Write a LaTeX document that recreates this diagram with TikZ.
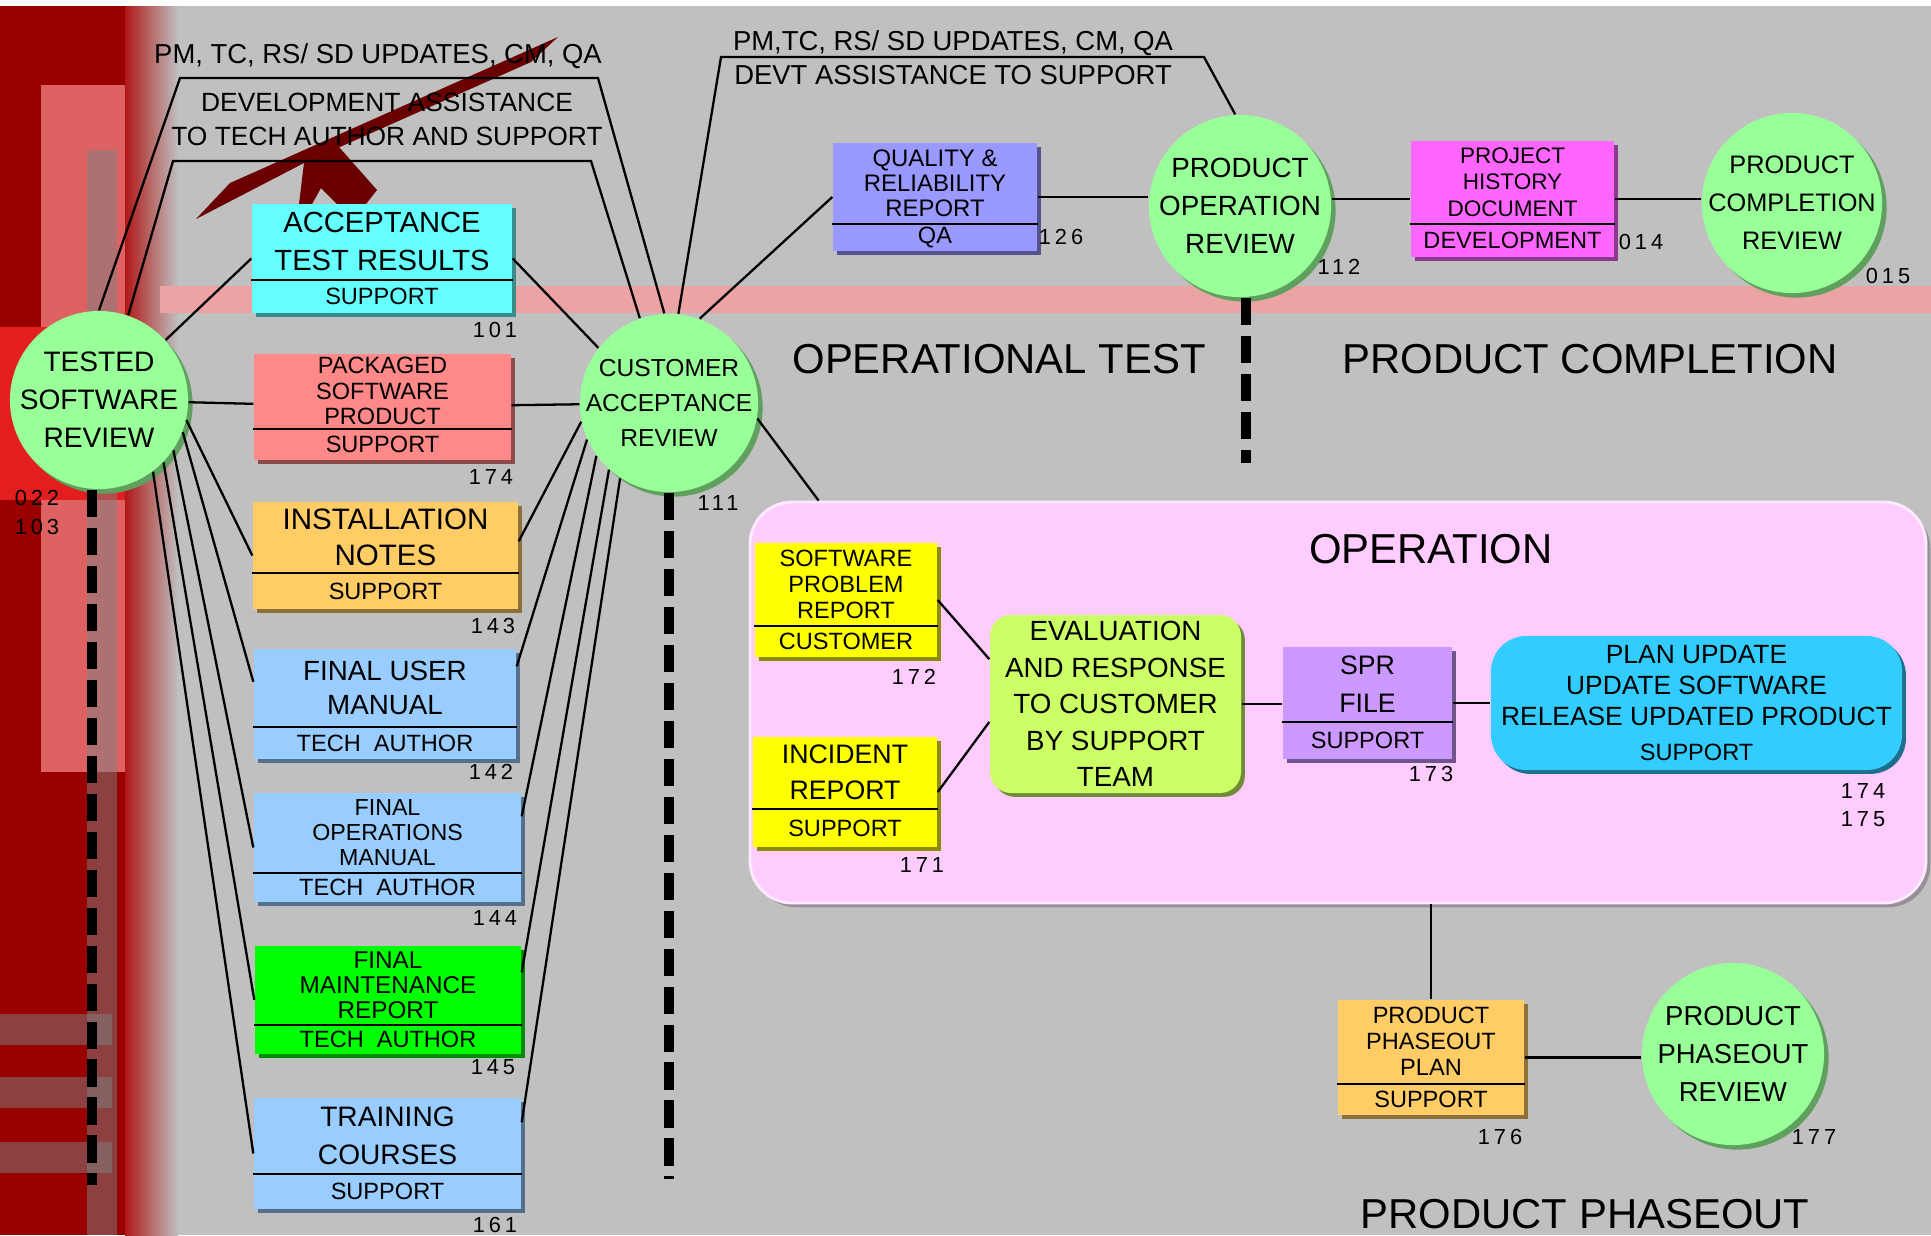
\documentclass[tikz,border=0pt]{standalone}
\usepackage{fontspec}
\setmainfont{Liberation Sans}
\usetikzlibrary{calc,fit,shadows}

\definecolor{panel}{HTML}{C0C0C0}
\definecolor{deepred}{HTML}{990000}
\definecolor{brightred}{HTML}{E31E1E}
\definecolor{pinkred}{HTML}{DE6262}
\definecolor{redfade}{HTML}{B01818}
\definecolor{bandpink}{HTML}{EBA3A3}
\definecolor{arrowred}{HTML}{6A0000}
\definecolor{revgreen}{HTML}{99FF99}
\definecolor{revshade}{HTML}{5FA05F}
\definecolor{tealcyan}{HTML}{66FFFF}
\definecolor{salmon}{HTML}{FF8888}
\definecolor{apricot}{HTML}{FFCC66}
\definecolor{skyblue}{HTML}{99CCFF}
\definecolor{vividgreen}{HTML}{00FF00}
\definecolor{periwinkle}{HTML}{9999FF}
\definecolor{hotpink}{HTML}{FF66FF}
\definecolor{sunyellow}{HTML}{FFFF00}
\definecolor{lavender}{HTML}{CC99FF}
\definecolor{opink}{HTML}{FFCCFF}
\definecolor{evgreen}{HTML}{CCFF66}
\definecolor{planblue}{HTML}{33CCFF}

\tikzset{
  review/.style={circle, fill=revgreen, inner sep=-6pt, minimum size=#1, align=center,
    drop shadow={shadow xshift=1.3pt, shadow yshift=-1.3pt, fill=revshade, opacity=1}},
  docbox/.style={inner sep=0pt, fill=#1,
    drop shadow={shadow xshift=1.1pt, shadow yshift=-1.1pt, fill=#1!55!black, opacity=1}},
  softbox/.style={docbox=#1, rounded corners=10pt},
  divider/.style={line width=0.8pt},
  owner/.style={font=\fontsize{6.7}{8}\selectfont},
  num/.style={font=\fontsize{6.2}{7}\selectfont\addfontfeature{LetterSpace=18}},
  link/.style={line width=0.65pt},
  phase/.style={line width=2.8pt, dash pattern=on 7.7pt off 3.1pt},
  stage/.style={font=\fontsize{11.9}{14}\selectfont},
  note/.style={font=\fontsize{7.8}{9}\selectfont},
}

% document box: name, colour, corner, corner, divider y, size, leading, title, owner
\newcommand{\docbox}[9]{%
  \node[docbox=#2, fit={(#3) (#4)}] (#1) {};
  \coordinate (#1-d) at (0,#5);
  \draw[divider] (#1.west |- #1-d) -- (#1.east |- #1-d);
  \node[align=center, font=\fontsize{#6}{#7}\selectfont] (#1-t)
    at ($(#1.north)!.5!(#1.north |- #1-d)$) {#8};
  \node[owner] (#1-o) at ($(#1.south)!.5!(#1.south |- #1-d)$) {#9};
}

\begin{document}
\begin{tikzpicture}[x=0.01cm, y=-0.01cm]
    \useasboundingbox (0,0) rectangle (1931,1235);

    % Backdrop
    \fill[white] (0,0) rectangle (1931,1235);
    \fill[panel] (0,6) rectangle (1931,1235);
    \fill[deepred] (0,6) rectangle (125,1235);
    \fill[pinkred] (41,85) rectangle (125,772);
    \fill[brightred] (0,327) rectangle (125,500);
    \fill[gray, opacity=.5] (87,150) rectangle (117,1235);
    \foreach \y in {1014,1077,1142}
        \fill[gray, opacity=.5] (0,\y) rectangle (112,\y+31);
    \shade[left color=redfade, right color=panel] (125,6) rectangle (178,1235);
    \fill[bandpink] (160,286) rectangle (1931,313);

    % Red arrow
    \fill[arrowred] (196,219) -- (230,183) -- (558,37) -- (531,62) -- (304,163) -- cycle;
    \fill[arrowred] (299,204) -- (304,163) -- (339,147) -- (377,190) -- (366,204)
        -- (337,204) -- (321,188) -- (312,204) -- cycle;

    % Operation area
    \node[fit={(750,502) (1926,903)}, inner sep=0pt, rounded corners=12pt, fill=opink,
        draw=white!60!opink, line width=0.8pt,
        drop shadow={shadow xshift=1.2pt, shadow yshift=-1.2pt, fill=gray!80!opink, opacity=1}] (oper) {};
    \node[stage] (oper-t) at (1431,549) {OPERATION};

    % Reviews
    \node[review=1.78cm, font=\fontsize{8}{10.8}\selectfont] (tsr) at (99,400) {TESTED\\SOFTWARE\\REVIEW};
    \node[review=1.78cm, font=\fontsize{7}{10}\selectfont] (car) at (669,403) {CUSTOMER\\ACCEPTANCE\\REVIEW};
    \node[review=1.82cm, font=\fontsize{7.9}{10.8}\selectfont] (por) at (1240,206) {PRODUCT\\OPERATION\\REVIEW};
    \node[review=1.80cm, font=\fontsize{7.2}{10.8}\selectfont] (pcr) at (1792,203) {PRODUCT\\COMPLETION\\REVIEW};
    \node[review=1.82cm, font=\fontsize{7.8}{10.8}\selectfont] (ppr) at (1733,1054) {PRODUCT\\PHASEOUT\\REVIEW};

    % Documents
    \docbox{atr}{tealcyan}{252,204}{512,313}{280}{8.3}{10.8}{ACCEPTANCE\\TEST RESULTS}{SUPPORT}
    \docbox{psp}{salmon}{254,354}{511,460}{429}{6.7}{7.2}{PACKAGED\\SOFTWARE\\PRODUCT}{SUPPORT}
    \docbox{inn}{apricot}{253,502}{518,609}{573}{8.4}{10.2}{INSTALLATION\\NOTES}{SUPPORT}
    \docbox{fum}{skyblue}{254,649}{516,759}{727}{7.9}{9.7}{FINAL USER\\MANUAL}{TECH\ \ AUTHOR}
    \docbox{fom}{skyblue}{254,793}{521,902}{873}{6.6}{7}{FINAL\\OPERATIONS\\MANUAL}{TECH\ \ AUTHOR}
    \docbox{fmr}{vividgreen}{255,946}{521,1054}{1025}{6.9}{7}{FINAL\\MAINTENANCE\\REPORT}{TECH\ \ AUTHOR}
    \docbox{trc}{skyblue}{254,1098}{521,1209}{1174}{8}{10.8}{TRAINING\\COURSES}{SUPPORT}
    \docbox{qrr}{periwinkle}{833,143}{1037,251}{224}{6.8}{7.2}{QUALITY \&\\RELIABILITY\\REPORT}{QA}
    \docbox{phd}{hotpink}{1411,141}{1614,257}{224}{6.4}{7.5}{PROJECT\\HISTORY\\DOCUMENT}{DEVELOPMENT}
    \docbox{spr}{sunyellow}{755,543}{937,657}{626}{6.7}{7.4}{SOFTWARE\\PROBLEM\\REPORT}{CUSTOMER}
    \docbox{inc}{sunyellow}{753,737}{937,847}{809}{7.6}{10.2}{INCIDENT\\REPORT}{SUPPORT}
    \docbox{sprf}{lavender}{1283,647}{1452,759}{722}{7.6}{10.8}{SPR\\FILE}{SUPPORT}
    \docbox{ppp}{apricot}{1338,1000}{1524,1115}{1084}{6.7}{7.4}{PRODUCT\\PHASEOUT\\PLAN}{SUPPORT}

    % Rounded activity boxes
    \node[softbox=evgreen, rounded corners=6pt, fit={(990,615) (1241,793)}] (evl) {};
    \node[align=center, font=\fontsize{7.9}{10.4}\selectfont] (evl-t) at (evl)
        {EVALUATION\\AND RESPONSE\\TO CUSTOMER\\BY SUPPORT\\TEAM};
    \node[softbox=planblue, fit={(1491,636) (1902,770)}] (plan) {};
    \node[align=center, font=\fontsize{7.5}{8.8}\selectfont] (plan-t) at (plan)
        {PLAN UPDATE\\UPDATE SOFTWARE\\RELEASE UPDATED PRODUCT\\[1pt]{\fontsize{6.7}{8}\selectfont SUPPORT}};

    % Reference numbers
    \node[num] (n022) at (37,498) {022};
    \node[num] (n103) at (37,527) {103};
    \node[num] (n101) at (495,330) {101};
    \node[num] (n174) at (491,477) {174};
    \node[num] (n143) at (493,626) {143};
    \node[num] (n142) at (491,772) {142};
    \node[num] (n144) at (495,918) {144};
    \node[num] (n145) at (493,1067) {145};
    \node[num] (n161) at (495,1225) {161};
    \node[num] (n111) at (718,503) {111};
    \node[num] (n126) at (1061,237) {126};
    \node[num] (n112) at (1339,267) {112};
    \node[num] (n014) at (1641,242) {014};
    \node[num] (n015) at (1888,276) {015};
    \node[num] (n172) at (914,677) {172};
    \node[num] (n171) at (922,865) {171};
    \node[num] (n173) at (1431,774) {173};
    \node[num] (n174b) at (1863,791) {174};
    \node[num] (n175) at (1863,819) {175};
    \node[num] (n176) at (1500,1137) {176};
    \node[num] (n177) at (1814,1137) {177};

    % Stage names
    \node[stage] (optest) at (999,359) {OPERATIONAL TEST};
    \node[stage] (prodcomp) at (1590,359) {PRODUCT COMPLETION};
    \node[stage] (prodphase) at (1585,1214) {PRODUCT PHASEOUT};

    % Updates passed along the top
    \node[note] (hd1) at (378,56) {PM, TC, RS/ SD UPDATES, CM, QA};
    \node[note, font=\fontsize{7.5}{9}\selectfont] (hd2) at (387,102) {DEVELOPMENT ASSISTANCE};
    \node[note, font=\fontsize{7.5}{9}\selectfont] (hd3) at (387,136) {TO TECH AUTHOR AND SUPPORT};
    \node[note] (hd4) at (953,43) {PM,TC, RS/ SD UPDATES, CM, QA};
    \node[note] (hd5) at (953,75) {DEVT ASSISTANCE TO SUPPORT};
    \draw[link] (tsr.north) -- (180,78) -- (598,78) -- (car.93);
    \draw[link] (tsr.71) -- (173,161) -- (591,161) -- (car.109);
    \draw[link] (car.84) -- (721,57) -- (1204,57) -- (por.93);

    % Deliverables between the two reviews
    \draw[link] (tsr.42) -- (atr.west);
    \draw[link] (tsr) -- (psp);
    \draw[link] (tsr.-13) -- (inn.west);
    \draw[link] (tsr.-21) -- ($(fum.north west)!.3!(fum.south west)$);
    \draw[link] (tsr.-34) -- (fom.west);
    \draw[link] (tsr.-44) -- (fmr.west);
    \draw[link] (tsr.-53) -- (trc.west);
    \draw[link] (atr.east) -- (car.142);
    \draw[link] (psp) -- (car);
    \draw[link] ($(inn.north east)+(0,40)$) -- (car.192);
    \draw[link] ($(fum.north east)+(0,18)$) -- (car.204);
    \draw[link] ($(fom.north east)+(0,24)$) -- (car.216);
    \draw[link] ($(fmr.north east)+(0,27)$) -- (car.228);
    \draw[link] ($(trc.north east)+(0,25)$) -- (car.237);

    % Operational test and completion
    \draw[link] (car.70) -- (qrr.west);
    \draw[link] (qrr.east) -- (qrr.east -| por.west);
    \draw[link] (phd.west -| por.east) -- (phd.west);
    \draw[link] (phd.east) -- (phd.east -| pcr.west);

    % Operation and phaseout
    \draw[link] (car.-10) -- ($(oper.north west)+(70,0)$);
    \draw[link] (spr.east) -- ($(evl.north west)!.25!(evl.south west)$);
    \draw[link] (inc.east) -- ($(evl.north west)!.6!(evl.south west)$);
    \draw[link] (evl.east) -- (evl.east -| sprf.west);
    \draw[link] (sprf.east) -- (sprf.east -| plan.west);
    \draw[link] (oper.south -| ppp.north) -- (ppp.north);
    \draw[link] (ppp.east) -- (ppp.east -| ppr.west);

    % Phase boundaries
    \draw[phase] ($(tsr.south)+(-7,0)$) -- (92,1185);
    \draw[phase] (car.south) -- (669,1179);
    \draw[phase] ($(por.south)+(6,0)$) -- (1246,463);
\end{tikzpicture}
\end{document}
